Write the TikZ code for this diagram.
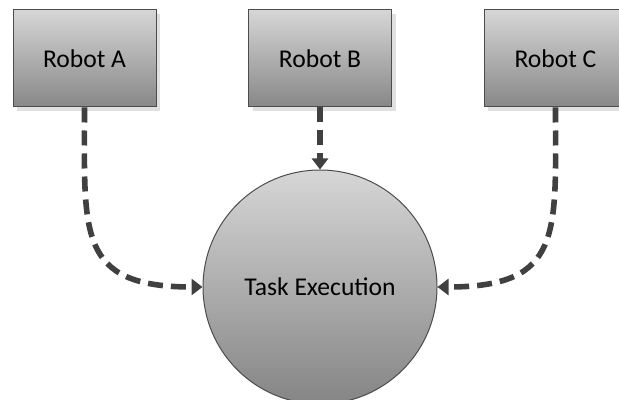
\documentclass[tikz,border=0pt]{standalone}
\usepackage{fontspec}
\setmainfont{Carlito}
\usepackage{tikz}
\usetikzlibrary{arrows.meta, positioning, shadows}
\tikzset{
    robotbox/.style={
        rectangle,
        draw=black!70,
        line width=0.5pt,
        minimum width=71.5pt,
        minimum height=48.5pt,
        top color=black!16,
        bottom color=black!47,
        drop shadow={shadow xshift=2pt, shadow yshift=-2pt, fill=black!12, opacity=1},
        font=\fontsize{12.8}{15}\selectfont
    },
    taskcircle/.style={
        circle,
        draw=black!70,
        line width=0.5pt,
        minimum size=117pt,
        top color=black!16,
        bottom color=black!48,
        font=\fontsize{12.8}{15}\selectfont
    },
    flow/.style={
        -{Triangle[length=5.5pt,width=8pt]},
        draw=black!75,
        line width=2.8pt,
        dash pattern=on 7.5pt off 4pt
    }
}

\begin{document}
\begin{tikzpicture}[node distance=31pt and 45.75pt]
    \useasboundingbox (0,0) rectangle (309.5pt,-200pt);
    \node[robotbox] (robotA) at (42.25pt,-29.25pt) {Robot A};
    \node[robotbox, right=of robotA] (robotB) {Robot B};
    \node[robotbox, right=of robotB] (robotC) {Robot C};
    \node[taskcircle, below=of robotB] (task) {Task Execution};

    \draw[flow] (robotA.south) to[out=-90,in=180,looseness=1.5] (task.west);
    \draw[flow] (robotB.south) -- (task.north);
    \draw[flow] (robotC.south) to[out=-90,in=0,looseness=1.5] (task.east);
\end{tikzpicture}
\end{document}
